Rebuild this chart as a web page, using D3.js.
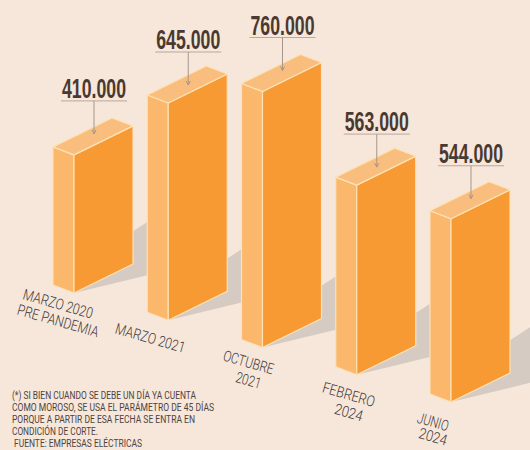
<!DOCTYPE html>
<html>
    <head>
        <title>Morosos</title>
        <meta charset="utf-8">
        <script src="https://d3js.org/d3.v7.min.js"></script>
        <style>
            html, body { margin: 0; padding: 0; background: #f7e6da; overflow: hidden; }
            svg { display: block; }
        </style>
    </head>
    <body>
        <svg width="530" height="450">
            <script type="text/javascript">
                var categories = ["mar2020", "mar2021", "oct2021", "feb2024", "jun2024"];
                var values = [410000, 645000, 760000, 563000, 544000];
                var labelLines = [
                    ["MARZO 2020", "PRE PANDEMIA"],
                    ["MARZO 2021"],
                    ["OCTUBRE", "2021"],
                    ["FEBRERO", "2024"],
                    ["JUNIO", "2024"]
                ];
                var footnotes = [
                    "(*) SI BIEN CUANDO SE DEBE UN DÍA YA CUENTA",
                    "COMO MOROSO, SE USA EL PARÁMETRO DE 45 DÍAS",
                    "PORQUE A PARTIR DE ESA FECHA SE ENTRA EN",
                    "CONDICIÓN DE CORTE.",
                    "FUENTE: EMPRESAS ELÉCTRICAS"
                ];

                // the bars step right and down, so the baseline gets its own scale
                var x = d3.scalePoint().domain(categories).range([74, 451]);
                var base = d3.scalePoint().domain(categories).range([293, 402]);
                var h = d3.scaleLinear().domain([0, 760000]).range([0, 256]);

                var sideW = 21, sideH = 8, faceW = 59, faceH = 29;
                var fmt = d3.formatLocale({decimal: ",", thousands: ".", grouping: [3], currency: ["", ""]}).format(",d");

                // label layout, offset from the front corner of each bar
                var labelDx = [-16, -18, -14, -8, -18];
                var labelDy = [11, 18, 15, 20, 20];
                var labelGap = [17, 0, 18, 18, 15];
                var lineW = [[72, 84], [72], [52, 26], [54, 29], [32, 29]];
                var leaderDy = [-54, -51, -54, -51, -53];
                var noteY = [399, 411, 423, 435, 447];
                var noteX = [12, 12, 12, 12, 14];
                var noteW = [184, 202, 183, 86, 128];

                var svg = d3.select("svg");
                var rows = categories.map(function(c, i) {
                    return {cat: c, value: values[i], lines: labelLines[i], i: i};
                });

                function poly(points) {
                    return points.map(function(p) { return p.join(","); }).join(" ");
                }

                svg.append("g").selectAll("polygon")
                    .data(rows)
                    .enter()
                    .append("polygon")
                    .attr("fill", "#d6cbc3")
                    .attr("points", function(d) {
                        var fx = x(d.cat), fy = base(d.cat);
                        return poly([[fx, fy], [fx + 95, fy - 23], [fx + 95, fy - 85], [fx + 50, fy - 56]]);
                    });

                var bars = svg.append("g").selectAll("g")
                    .data(rows)
                    .enter()
                    .append("g")
                    .attr("stroke", "#fde2b4")
                    .attr("stroke-width", 1.2)
                    .attr("stroke-linejoin", "round");

                // left side
                bars.append("polygon")
                    .attr("fill", "#fbb76b")
                    .attr("points", function(d) {
                        var fx = x(d.cat), fy = base(d.cat), t = fy - h(d.value);
                        return poly([[fx, fy], [fx, t], [fx - sideW, t - sideH], [fx - sideW, fy - sideH]]);
                    });

                // front
                bars.append("polygon")
                    .attr("fill", "#f79a34")
                    .attr("points", function(d) {
                        var fx = x(d.cat), fy = base(d.cat), t = fy - h(d.value);
                        return poly([[fx, fy], [fx, t], [fx + faceW, t - faceH], [fx + faceW, fy - faceH]]);
                    });

                // top
                bars.append("polygon")
                    .attr("fill", "#f9bd7d")
                    .attr("points", function(d) {
                        var fx = x(d.cat), t = base(d.cat) - h(d.value);
                        return poly([[fx, t], [fx + faceW, t - faceH], [fx + faceW - sideW, t - faceH - sideH], [fx - sideW, t - sideH]]);
                    });

                var tags = svg.append("g").selectAll("g")
                    .data(rows)
                    .enter()
                    .append("g")
                    .attr("transform", function(d) {
                        return "translate(" + (x(d.cat) + 20) + "," + (base(d.cat) - h(d.value) + leaderDy[d.i]) + ")";
                    });

                tags.append("line")
                    .attr("x1", -33).attr("x2", 33)
                    .attr("stroke", "#b7a99c");

                tags.append("line")
                    .attr("y2", 33)
                    .attr("stroke", "#a8968a");

                tags.append("path")
                    .attr("d", "M-2,29L0,33L2,29")
                    .attr("fill", "none")
                    .attr("stroke", "#a8968a");

                tags.append("text")
                    .text(function(d) { return fmt(d.value); })
                    .attr("y", -3)
                    .attr("text-anchor", "middle")
                    .attr("textLength", 64)
                    .attr("lengthAdjust", "spacingAndGlyphs")
                    .style("font-family", "'Liberation Sans Narrow', 'Liberation Sans', sans-serif")
                    .style("font-weight", "bold")
                    .style("font-size", "27px")
                    .attr("fill", "#4a3930");

                var labels = svg.append("g").selectAll("g")
                    .data(rows)
                    .enter()
                    .append("g")
                    .attr("transform", function(d) {
                        return "translate(" + (x(d.cat) + labelDx[d.i]) + "," + (base(d.cat) + labelDy[d.i]) + ")";
                    });

                labels.each(function(d) {
                    d3.select(this).selectAll("text")
                        .data(d.lines)
                        .enter()
                        .append("text")
                        .text(function(t) { return t; })
                        .attr("text-anchor", "middle")
                        .attr("textLength", function(t, j) { return lineW[d.i][j]; })
                        .attr("lengthAdjust", "spacingAndGlyphs")
                        .attr("transform", function(t, j) {
                            return "translate(0," + (j * labelGap[d.i]) + ") rotate(16) translate(0,5)";
                        })
                        .style("font-family", "Roboto, sans-serif")
                        .style("font-weight", "300")
                        .style("font-size", "15px")
                        .attr("fill", "#3f3a38");
                });

                svg.append("g").selectAll("text")
                    .data(footnotes)
                    .enter()
                    .append("text")
                    .text(function(d) { return d; })
                    .attr("x", function(d, i) { return noteX[i]; })
                    .attr("y", function(d, i) { return noteY[i]; })
                    .attr("textLength", function(d, i) { return noteW[i]; })
                    .attr("lengthAdjust", "spacingAndGlyphs")
                    .style("font-family", "Roboto, sans-serif")
                    .style("font-size", "10px")
                    .attr("fill", "#4c4440");
            </script>
        </svg>
    </body>
</html>
